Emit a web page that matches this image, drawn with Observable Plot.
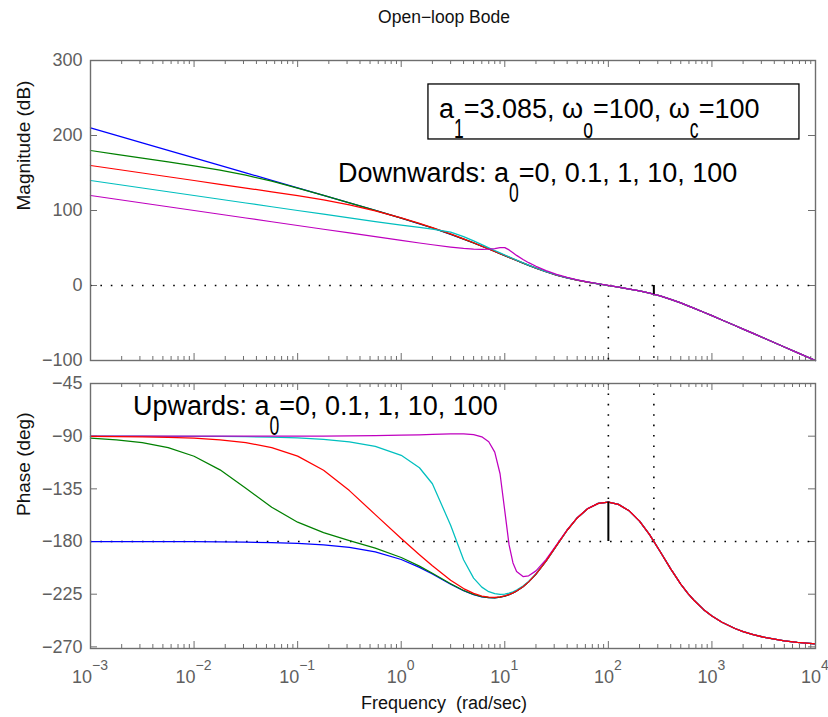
<!DOCTYPE html>
<html>
<head>
<meta charset="utf-8">
<script src="https://cdn.jsdelivr.net/npm/d3@7"></script>
<script src="https://cdn.jsdelivr.net/npm/@observablehq/plot@0.6"></script>
<style>
  html, body { margin: 0; padding: 0; background: #fff; }
  #chart { width: 828px; height: 717px; position: relative; overflow: hidden; background: #fff; }
  #chart svg { display: block; }
  #chart svg text { white-space: pre; }
</style>
</head>
<body>
<div id="chart"></div>
<script>
// ---------------- data ----------------
const freq = [0.001, 0.00178, 0.00316, 0.00562, 0.01, 0.0178, 0.0316, 0.0562, 0.1, 0.178, 0.316, 0.562,
  1, 1.5, 2, 3, 4, 5, 6, 7, 8, 9, 10,
  11, 12, 13, 15, 17, 20, 25, 31.6, 40, 50, 63, 80, 100,
  125, 160, 200, 250, 316, 400, 500, 588, 667, 833, 1000, 1250, 1667, 2000, 2500, 3333, 5000, 6667, 10000];

const magA0_0 = [210.2, 200.2, 190.2, 180.2, 170.2, 160.2, 150.2, 140.2, 130.21, 120.19, 110.17, 100.07,
  89.78, 82.25, 76.66, 68.26, 61.89, 56.72, 52.37, 48.63, 45.36, 42.46, 39.85,
  37.50, 35.36, 33.38, 29.91, 26.92, 23.17, 18.36, 13.92, 10.21, 7.28, 4.65, 2.20, 0.00,
  -2.21, -4.77, -7.30, -10.24, -13.96, -18.42, -23.27, -27.06, -30.09, -35.63, -40.25, -45.97, -53.40, -58.12, -63.92, -71.39, -81.95, -89.44, -100.0];
const magA0_01 = [180.0, 174.99, 169.96, 164.88, 159.61, 153.88, 147.14, 139.04, 129.86, 120.15, 110.22, 100.15,
  89.87, 82.32, 76.72, 68.31, 61.92, 56.75, 52.39, 48.64, 45.37, 42.47, 39.86,
  37.51, 35.37, 33.39, 29.92, 26.93, 23.17, 18.36, 13.92, 10.21, 7.28, 4.65, 2.20, 0.00,
  -2.21, -4.77, -7.30, -10.24, -13.96, -18.42, -23.27, -27.06, -30.09, -35.63, -40.25, -45.97, -53.40, -58.12, -63.92, -71.39, -81.95, -89.44, -100.0];
const magA0_1 = [160.0, 155.0, 150.0, 145.0, 140.0, 134.99, 129.97, 124.90, 119.68, 114.07, 107.54, 99.59,
  90.22, 82.87, 77.26, 68.73, 62.23, 56.97, 52.57, 48.79, 45.48, 42.55, 39.94,
  37.56, 35.41, 33.43, 29.94, 26.95, 23.19, 18.37, 13.92, 10.21, 7.28, 4.65, 2.20, 0.00,
  -2.21, -4.77, -7.30, -10.24, -13.96, -18.42, -23.27, -27.06, -30.09, -35.63, -40.25, -45.97, -53.40, -58.12, -63.92, -71.39, -81.95, -89.44, -100.0];
const magA0_10 = [140.0, 135.0, 130.0, 125.0, 120.0, 115.0, 110.0, 105.0, 100.0, 95.01, 90.05, 85.14,
  80.43, 77.37, 75.29, 71.10, 65.25, 59.43, 54.44, 50.23, 46.62, 43.47, 40.68,
  38.19, 35.94, 33.88, 30.28, 27.22, 23.38, 18.49, 14.01, 10.27, 7.32, 4.67, 2.21, 0.01,
  -2.21, -4.77, -7.30, -10.24, -13.96, -18.42, -23.27, -27.06, -30.09, -35.63, -40.25, -45.97, -53.40, -58.12, -63.92, -71.39, -81.95, -89.44, -100.0];
const magA0_100 = [120.0, 115.0, 110.0, 105.0, 100.0, 95.0, 90.0, 85.0, 80.0, 75.0, 70.01, 65.03,
  60.08, 56.67, 54.33, 51.25, 49.42, 48.40, 48.05, 48.34, 49.29, 50.57, 50.47,
  47.46, 43.61, 40.14, 34.63, 30.43, 25.59, 19.84, 14.82, 10.77, 7.64, 4.87, 2.34, 0.08,
  -2.15, -4.73, -7.28, -10.23, -13.95, -18.42, -23.27, -27.06, -30.09, -35.63, -40.25, -45.97, -53.40, -58.12, -63.92, -71.39, -81.95, -89.44, -100.0];

const phA0_0 = [-180.02, -180.03, -180.05, -180.09, -180.16, -180.28, -180.51, -180.90, -181.60, -182.84, -185.04, -188.87,
  -195.38, -202.06, -207.80, -216.45, -222.02, -225.37, -227.22, -228.03, -228.06, -227.57, -226.68,
  -225.45, -223.99, -222.35, -218.62, -214.49, -207.92, -196.84, -183.50, -170.38, -159.89, -152.01, -147.46, -146.33,
  -148.26, -153.99, -162.54, -174.08, -188.51, -203.43, -216.34, -224.48, -229.97, -238.20, -243.64, -249.01, -254.32, -256.96, -259.59, -262.20, -264.80, -266.10, -267.40];
const phA0_01 = [-91.77, -93.14, -95.57, -99.85, -107.13, -118.77, -134.50, -150.70, -163.48, -172.44, -179.19, -185.66,
  -193.68, -201.05, -207.14, -216.13, -221.84, -225.27, -227.16, -228.00, -228.05, -227.55, -226.66,
  -225.43, -223.97, -222.33, -218.60, -214.47, -207.91, -196.83, -183.50, -170.38, -159.89, -152.01, -147.46, -146.33,
  -148.26, -153.99, -162.54, -174.08, -188.51, -203.43, -216.34, -224.48, -229.97, -238.20, -243.64, -249.01, -254.32, -256.96, -259.59, -262.20, -264.80, -266.10, -267.40];
const phA0_1 = [-90.18, -90.31, -90.56, -90.99, -91.74, -93.09, -95.50, -99.73, -107.05, -119.06, -136.50, -157.02,
  -177.43, -191.24, -200.77, -213.10, -220.21, -224.32, -226.56, -227.59, -227.76, -227.35, -226.51,
  -225.33, -223.89, -222.27, -218.56, -214.46, -207.90, -196.83, -183.50, -170.38, -159.89, -152.01, -147.46, -146.33,
  -148.26, -153.99, -162.54, -174.08, -188.51, -203.43, -216.34, -224.48, -229.97, -238.20, -243.64, -249.01, -254.32, -256.96, -259.59, -262.20, -264.80, -266.10, -267.40];
const phA0_10 = [-90.02, -90.03, -90.06, -90.10, -90.15, -90.26, -90.48, -90.85, -91.51, -92.69, -94.82, -98.71,
  -106.34, -116.97, -130.64, -166.08, -195.59, -211.24, -218.98, -222.84, -224.59, -225.13, -224.90,
  -224.12, -222.97, -221.54, -218.09, -214.13, -207.70, -196.72, -183.44, -170.35, -159.88, -152.00, -147.45, -146.33,
  -148.26, -153.99, -162.54, -174.08, -188.51, -203.43, -216.34, -224.48, -229.97, -238.20, -243.64, -249.01, -254.32, -256.96, -259.59, -262.20, -264.80, -266.10, -267.40];
const phA0_100 = [-90.00, -90.00, -90.00, -90.01, -89.99, -89.98, -89.98, -89.96, -89.92, -89.86, -89.75, -89.55,
  -89.21, -88.84, -88.52, -88.06, -88.02, -88.67, -90.56, -94.76, -103.58, -122.11, -153.82,
  -182.87, -198.33, -205.53, -209.93, -209.27, -205.07, -195.51, -182.88, -170.09, -159.74, -151.94, -147.43, -146.32,
  -148.26, -153.99, -162.54, -174.08, -188.51, -203.43, -216.34, -224.48, -229.97, -238.20, -243.64, -249.01, -254.32, -256.96, -259.59, -262.20, -264.80, -266.10, -267.40];

// stability margins (gain crossover, phase crossover)
const crossFreq = [100, 275];
const crossMag = [0, -11.8];
const crossPhase = [-146.3, -180];

// ticks
const magTicks = [-100, 0, 100, 200, 300];
const phaseTicks = [-270, -225, -180, -135, -90, -45];
const xMajor = [1e-3, 1e-2, 1e-1, 1, 10, 100, 1000, 10000];
const xTickExp = ["\u22123", "\u22122", "\u22121", "0", "1", "2", "3", "4"];

const seriesColors = ["#0000ff", "#008000", "#ff0000", "#00bfbf", "#bf00bf"];

// ---------------- layout ----------------
const FONT = '"Liberation Sans", Arial, Helvetica, sans-serif';
const GRAY = "#6e6e6e";
const LABEL_GRAY = "#5f5f5f";
const W = 828, ML = 90, MR = 13;
const FW = W - ML - MR;
const magDomain = [-100, 300];
const phaseDomain = [-271.4, -45];
const xMinor = xMajor.slice(0, -1).flatMap(d => [2, 3, 4, 5, 6, 7, 8, 9].map(k => k * d));
const fmtTick = d => String(d).replace("-", "\u2212");
const rows = values => freq.map((w, i) => ({w, v: values[i]}));

function frameTicks(yTicks, frameH) {
  return [
    Plot.tickY(yTicks, {y: d => d, insetRight: FW - 7, stroke: GRAY}),
    Plot.tickY(yTicks, {y: d => d, insetLeft: FW - 7, stroke: GRAY}),
    Plot.tickX(xMajor, {x: d => d, insetTop: frameH - 7, stroke: GRAY}),
    Plot.tickX(xMajor, {x: d => d, insetBottom: frameH - 7, stroke: GRAY}),
    Plot.tickX(xMinor, {x: d => d, insetTop: frameH - 4, stroke: GRAY}),
    Plot.tickX(xMinor, {x: d => d, insetBottom: frameH - 4, stroke: GRAY})
  ];
}
const dotted = {stroke: "#000", strokeWidth: 1.6, strokeDasharray: "1.6,8.8"};
const lineOpts = (c) => ({x: "w", y: "v", stroke: c, strokeWidth: 1.25});

const magSeries = [magA0_0, magA0_01, magA0_1, magA0_10, magA0_100];
const phaseSeries = [phA0_0, phA0_01, phA0_1, phA0_10, phA0_100];
const phaseOrder = [0, 1, 3, 4, 2];

const topPlot = Plot.plot({
  width: W, height: 370,
  marginLeft: ML, marginRight: MR, marginTop: 60, marginBottom: 10,
  style: {fontFamily: FONT, fontSize: "18px", background: "#fff"},
  x: {type: "log", domain: [1e-3, 1e4], axis: null},
  y: {domain: magDomain, axis: null},
  marks: [
    ...frameTicks(magTicks, 300),
    Plot.text(magTicks, {y: d => d, frameAnchor: "left", dx: -8, textAnchor: "end", text: fmtTick, fill: LABEL_GRAY, fontSize: 18}),
    Plot.text(["Magnitude (dB)"], {frameAnchor: "left", dx: -67, rotate: -90, text: d => d, fontSize: 19, fill: "#111"}),
    Plot.text(["Open\u2212loop Bode"], {frameAnchor: "top", dy: -38, dx: -9, lineAnchor: "bottom", text: d => d, fontSize: 17.5, fill: "#111"}),
    Plot.ruleY([crossMag[0]], dotted),
    Plot.ruleX([0], {x: i => crossFreq[i], y1: i => crossMag[0], y2: () => magDomain[0], ...dotted}),
    Plot.ruleX([1], {x: i => crossFreq[i], y1: i => crossMag[i], y2: () => magDomain[0], ...dotted}),
    ...magSeries.map((s, i) => Plot.line(rows(s), lineOpts(seriesColors[i]))),
    Plot.ruleX([1], {x: i => crossFreq[i], y1: () => crossMag[0], y2: i => crossMag[i], stroke: "#000", strokeWidth: 2}),
    Plot.frame({stroke: GRAY, strokeWidth: 1.4})
  ]
});

const botPlot = Plot.plot({
  width: W, height: 347,
  marginLeft: ML, marginRight: MR, marginTop: 13, marginBottom: 69,
  style: {fontFamily: FONT, fontSize: "18px", background: "#fff"},
  x: {type: "log", domain: [1e-3, 1e4], axis: null},
  y: {domain: phaseDomain, axis: null},
  marks: [
    ...frameTicks(phaseTicks, 265),
    Plot.text(phaseTicks, {y: d => d, frameAnchor: "left", dx: -8, textAnchor: "end", text: fmtTick, fill: LABEL_GRAY, fontSize: 18}),
    Plot.text(["Phase (deg)"], {frameAnchor: "left", dx: -67, rotate: -90, text: d => d, fontSize: 19, fill: "#111"}),
    Plot.text(["Frequency  (rad/sec)"], {frameAnchor: "bottom", dy: 60, dx: -9, lineAnchor: "bottom", text: d => d, fontSize: 18, fill: "#111"}),
    Plot.ruleY([crossPhase[1]], dotted),
    Plot.ruleX([0], {x: i => crossFreq[i], y1: () => phaseDomain[1], y2: i => crossPhase[i], ...dotted}),
    Plot.ruleX([1], {x: i => crossFreq[i], y1: () => phaseDomain[1], y2: i => crossPhase[i], ...dotted}),
    ...phaseOrder.map(i => Plot.line(rows(phaseSeries[i]), lineOpts(seriesColors[i]))),
    Plot.ruleX([0], {x: i => crossFreq[i], y1: i => crossPhase[i], y2: () => crossPhase[1], stroke: "#000", strokeWidth: 2}),
    Plot.frame({stroke: GRAY, strokeWidth: 1.4})
  ]
});

const chart = document.getElementById("chart");
chart.appendChild(topPlot);
chart.appendChild(botPlot);

// ---------------- rich text (subscripts / superscripts) ----------------
function richText(svg, x, y, parts, size) {
  const g = d3.select(svg).append("g")
    .attr("font-family", FONT).attr("font-size", size).attr("fill", "#000")
    .attr("text-anchor", "start");
  let cx = x;
  for (const p of parts) {
    const sx = p.sub ? 0.65 : 1;
    const dy = p.sub ? 20 : 0;
    const t = g.append("text")
      .attr("text-anchor", "start")
      .attr("transform", `translate(${cx},${y + dy}) scale(${sx},1)`)
      .text(p.t);
    cx += t.node().getComputedTextLength() * sx;
  }
  return cx;
}

const tx = topPlot.scale("x"), ty = topPlot.scale("y");
const bx = botPlot.scale("x"), by = botPlot.scale("y");

// annotation anchors in data units
const noteDown = {w: 0.248, v: 137.3};
const noteBox = {w: 2.34, v: 222.7};
const noteUp = {w: 0.0026, v: -72.1};

{
  const x0 = tx.apply(noteBox.w), y0 = ty.apply(noteBox.v);
  d3.select(topPlot).append("rect")
    .attr("x", x0 - 11).attr("y", y0 - 34).attr("width", 371).attr("height", 55)
    .attr("fill", "#fff").attr("stroke", "#000").attr("stroke-width", 1.3);
  richText(topPlot, x0, y0, [
    {t: "a"}, {t: "1", sub: true}, {t: "=3.085, \u03c9"}, {t: "o", sub: true},
    {t: "=100, \u03c9"}, {t: "c", sub: true}, {t: "=100"}
  ], 27);
}
richText(topPlot, tx.apply(noteDown.w), ty.apply(noteDown.v),
  [{t: "Downwards: a"}, {t: "0", sub: true}, {t: "=0, 0.1, 1, 10, 100"}], 27);
richText(botPlot, bx.apply(noteUp.w), by.apply(noteUp.v),
  [{t: "Upwards: a"}, {t: "0", sub: true}, {t: "=0, 0.1, 1, 10, 100"}], 27);

// x tick labels 10^k
{
  const g = d3.select(botPlot).append("g").attr("font-family", FONT).attr("fill", LABEL_GRAY);
  xMajor.forEach((v, i) => {
    const t = g.append("text").attr("x", bx.apply(v)).attr("y", 313)
      .attr("text-anchor", "middle").attr("font-size", 18);
    t.append("tspan").text("10");
    t.append("tspan").attr("dy", -13).attr("font-size", 14).text(xTickExp[i]);
  });
}
</script>
</body>
</html>
